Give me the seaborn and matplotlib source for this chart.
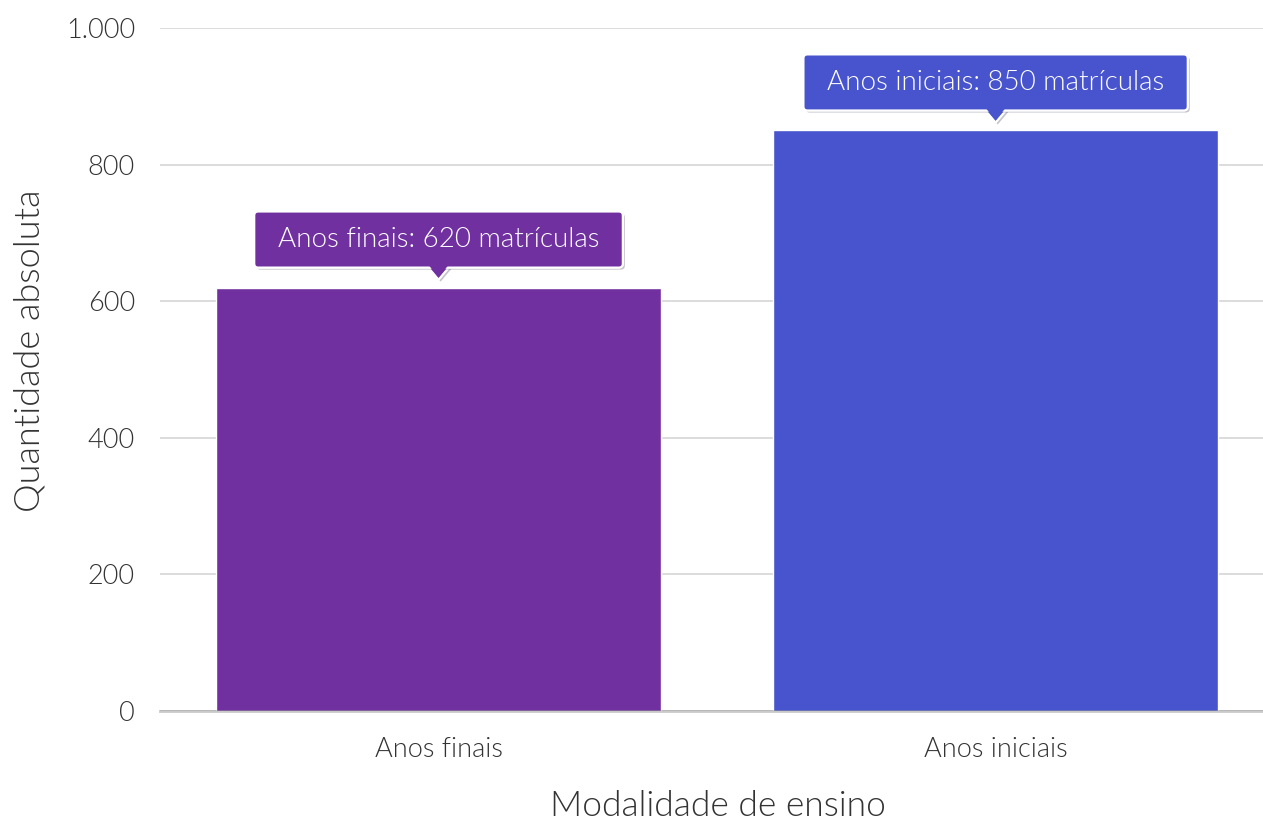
import matplotlib
matplotlib.use("Agg")
import matplotlib.pyplot as plt
import matplotlib.patheffects as pe
from matplotlib.patches import Polygon, FancyBboxPatch
from matplotlib.ticker import FuncFormatter
import seaborn as sns
import pandas as pd

categorias = ["Anos finais", "Anos iniciais"]
matriculas = [620, 850]
cores = ["#7030A0", "#4854CD"]
y_ticks = [0, 200, 400, 600, 800, 1000]

sns.set_style("white")
plt.rcParams["font.family"] = ["Lato", "DejaVu Sans"]
plt.rcParams["font.weight"] = 300
plt.rcParams["axes.labelweight"] = 300

df = pd.DataFrame({"modalidade": categorias, "valor": matriculas})

fig = plt.figure(figsize=(12.63, 8.21), dpi=100)
ax = fig.add_axes([160 / 1263, 110 / 821, 1103 / 1263, 683 / 821])

sns.barplot(data=df, x="modalidade", y="valor", hue="modalidade",
            palette=cores, width=0.8, saturation=1, legend=False, ax=ax)

ax.set_xlim(-0.5, 1.48)
ax.set_ylim(0, 1000)
ax.set_yticks(y_ticks)
ax.yaxis.set_major_formatter(FuncFormatter(lambda v, p: f"{int(v):,}".replace(",", ".")))
ax.grid(axis="y", color="#d9d9d9", lw=1.3)
ax.set_axisbelow(True)
for s in ["top", "right", "left"]:
    ax.spines[s].set_visible(False)
ax.spines["bottom"].set_color((0.45, 0.45, 0.45, 0.38))
ax.spines["bottom"].set_linewidth(2)
ax.spines["bottom"].set_zorder(5)
ax.tick_params(axis="both", length=0, labelsize=19.5, labelcolor="#333333")
ax.tick_params(axis="y", pad=18)
ax.tick_params(axis="x", pad=19)
for lab in ax.get_xticklabels() + ax.get_yticklabels():
    lab.set_fontweight(300)

ax.set_xlabel("Modalidade de ensino", fontsize=25.5, color="#333333", fontweight=300)
ax.xaxis.set_label_coords(0.5054, -0.115)
ax.set_ylabel("Quantidade absoluta", fontsize=26, color="#333333", fontweight=300)
ax.yaxis.set_label_coords(-0.1035, 0.527)

# balões com o valor acima de cada barra
fig.canvas.draw()
renderer = fig.canvas.get_renderer()
sombra = [pe.withSimplePatchShadow(offset=(1.5, -1.5), alpha=0.25), pe.Normal()]
for i, (cat, val, cor) in enumerate(zip(categorias, matriculas, cores)):
    base = ax.transData.transform((i, val))
    cx, cy = base[0], base[1] + 48
    t = fig.text(cx, cy, f"{cat}: {val} matrículas", transform=None,
                 ha="center", va="center", fontsize=20, color="white",
                 fontweight=300, zorder=9)
    ext = t.get_window_extent(renderer)
    w = ext.width + 47
    h = 56
    box = FancyBboxPatch((cx - w / 2, cy - h / 2), w, h,
                         boxstyle="round,pad=0,rounding_size=4", fc=cor, ec="white",
                         lw=1.5, transform=None, zorder=6)
    box.set_path_effects(sombra)
    fig.patches.append(box)
    tri = Polygon([(cx - 11, cy - h / 2 + 1), (cx + 11, cy - h / 2 + 1),
                   (cx, cy - h / 2 - 12)], closed=True, fc=cor, ec="white", lw=1.5,
                  transform=None, zorder=5)
    tri.set_path_effects(sombra)
    fig.patches.append(tri)
    # cobre a borda branca entre caixa e triângulo
    cover = Polygon([(cx - 9.5, cy - h / 2 + 2), (cx + 9.5, cy - h / 2 + 2),
                     (cx, cy - h / 2 - 10)], closed=True, fc=cor, ec="none",
                    transform=None, zorder=7)
    fig.patches.append(cover)

fig.savefig("out.png", dpi=100)
